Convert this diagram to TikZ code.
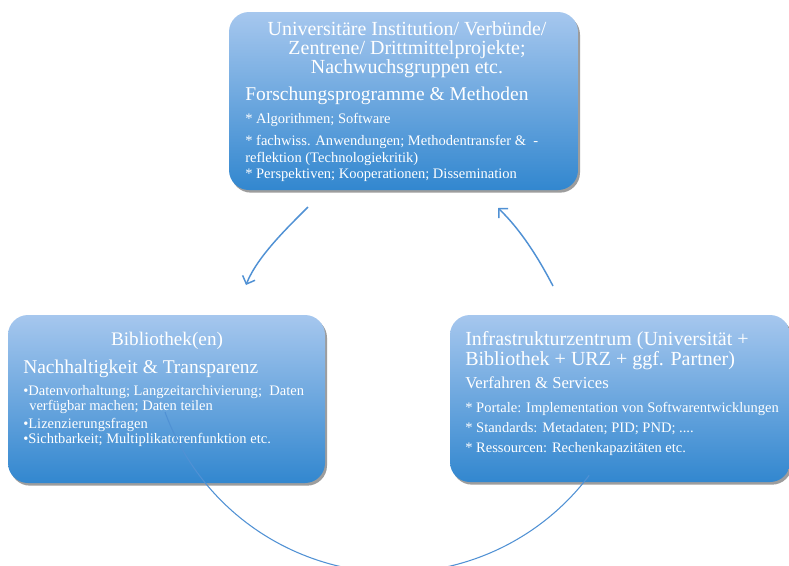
\documentclass[tikz,border=0pt]{standalone}
\usepackage{fontspec}
\setmainfont{Liberation Serif}
\usetikzlibrary{shadows,arrows.meta,positioning}
\definecolor{boxtop}{RGB}{166,199,238}
\definecolor{boxbot}{RGB}{50,135,207}
\definecolor{flowblue}{RGB}{80,145,212}
\tikzset{main box/.style={rectangle,rounded corners=15pt,top color=boxtop,bottom color=boxbot,draw=none,
            drop shadow={shadow xshift=1.5pt,shadow yshift=-2pt,opacity=0.55,fill=black!70}},
         head text/.style={text=white,inner sep=0pt,font=\fontsize{15}{17}\selectfont},
         sub text/.style={text=white,inner sep=0pt,anchor=base west,font=\fontsize{14.6}{17}\selectfont},
         item text/.style={text=white,inner sep=0pt,anchor=base west,font=\fontsize{10.9}{13}\selectfont},
         flow arrow/.style={draw=flowblue,line width=1.1pt,-{Straight Barb[length=5pt,width=10pt]}}
}
\begin{document}
\begin{tikzpicture}[x=0.75pt,y=-0.75pt]
\useasboundingbox (0,0) rectangle (789,565);

% boxes
\node [main box, minimum width=261.75pt, minimum height=133.5pt] (inst) at (403.5,101) {};
\node [main box, minimum width=237.75pt, minimum height=126pt] (bib) at (166.5,399) {};
\node [main box, minimum width=255pt, minimum height=125.25pt] (infra) at (620,398.5) {};

% top box
\node [head text, anchor=base] (inst-h1) at (407,35) {Universitäre Institution/ Verbünde/};
\node [head text, anchor=base] (inst-h2) at (407,54) {Zentrene/ Drittmittelprojekte;};
\node [head text, anchor=base] (inst-h3) at (407,73) {Nachwuchsgruppen etc.};
\node [sub text] (inst-sub) at (245,100) {Forschungsprogramme \& Methoden};
\foreach \y/\t [count=\i] in {123/{* Algorithmen; Software},
        145/{* fachwiss. Anwendungen; Methodentransfer \&\ \ -},
        162/{reflektion (Technologiekritik)},
        178/{* Perspektiven; Kooperationen; Dissemination}}
    \node [item text] (inst-\i) at (245,\y) {\t};

% left box
\node [head text, anchor=base, font=\fontsize{14.4}{17}\selectfont] (bib-h) at (167,345) {Bibliothek(en)};
\node [sub text] (bib-sub) at (23,373) {Nachhaltigkeit \& Transparenz};
\foreach \x/\y/\t [count=\i] in {23/395/{•Datenvorhaltung; Langzeitarchivierung;\ \ Daten},
        29/410/{verfügbar machen; Daten teilen},
        23/428/{•Lizenzierungsfragen},
        23/443/{•Sichtbarkeit; Multiplikatorenfunktion etc.}}
    \node [item text] (bib-\i) at (\x,\y) {\t};

% right box
\node [head text, anchor=base west] (infra-h1) at (465,345) {Infrastrukturzentrum (Universität +};
\node [head text, anchor=base west] (infra-h2) at (465,365) {Bibliothek + URZ + ggf. Partner)};
\node [sub text, font=\fontsize{12.5}{15}\selectfont] (infra-sub) at (465,388) {Verfahren \& Services};
\foreach \y/\t [count=\i] in {412/{* Portale: Implementation von Softwarentwicklungen},
        432/{* Standards: Metadaten; PID; PND; ....},
        452/{* Ressourcen: Rechenkapazitäten etc.}}
    \node [item text] (infra-\i) at (465,\y) {\t};

% connectors
\coordinate (inst-out) at (308,207);
\coordinate (bib-in) at (246,285);
\coordinate (infra-out) at (553,286);
\coordinate (inst-in) at (498,208);
\coordinate (bib-out) at (165,412);
\draw [flow arrow] (inst-out) .. controls (287,228) and (257,257) .. (bib-in);
\draw [flow arrow] (infra-out) .. controls (539,259) and (521,230) .. (inst-in);
\draw [draw=flowblue, line width=0.8pt] (bib-out) arc[start angle=160, end angle=37, radius=244];
\end{tikzpicture}
\end{document}
